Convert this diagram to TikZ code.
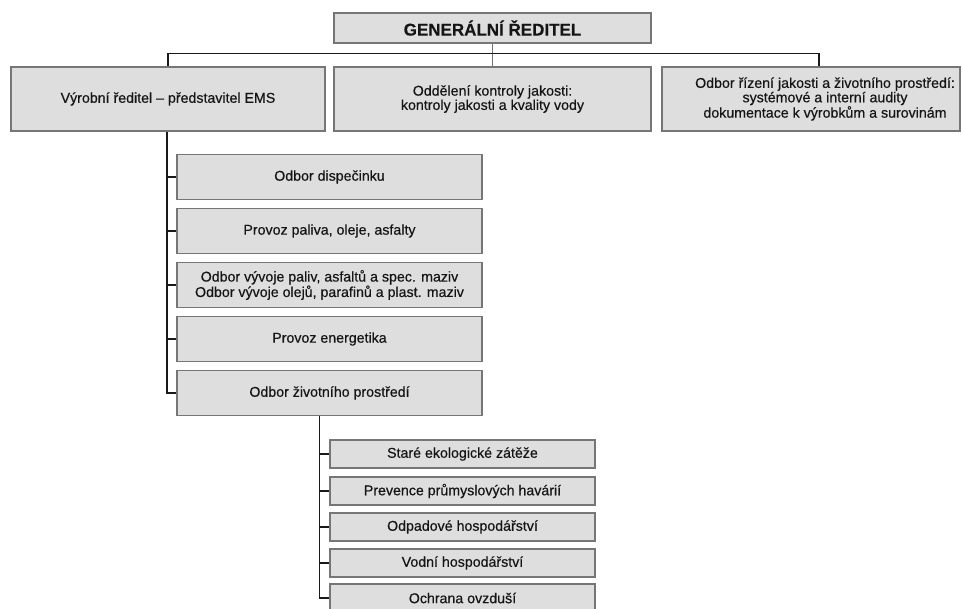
\documentclass[tikz,border=0pt]{standalone}
\usepackage{fontspec}
\setmainfont{Liberation Sans}[FakeBold=0.4]
\usetikzlibrary{calc}
\definecolor{boxfill}{HTML}{DEDEDE}
\definecolor{boxdraw}{HTML}{767676}
\definecolor{boxshade}{HTML}{5E5E5E}
\definecolor{txt}{HTML}{151515}
\tikzset{
  orgbox/.style={draw=boxdraw, line width=1.6pt, fill=boxfill, inner sep=0pt, align=center,
    text=txt, font=\fontsize{14.2}{13}\selectfont,
    append after command={[draw=boxshade, line width=1.6pt]
      (\tikzlastnode.south west) -- (\tikzlastnode.south east) -- (\tikzlastnode.north east)}},
  boxtext/.style={inner sep=0pt, align=center, text=txt, font=\fontsize{14.2}{13}\selectfont},
  topbox/.style={orgbox, minimum width=314pt, minimum height=64pt},
  kidbox/.style={orgbox, minimum width=305pt, minimum height=45pt},
  subbox/.style={orgbox, minimum width=265pt, minimum height=28pt},
  link/.style={draw=black!90, line width=1.4pt},
  thinlink/.style={draw=black!55, line width=0.9pt}
}
\begin{document}
\begin{tikzpicture}[x=1pt,y=-1pt]
\useasboundingbox (0,0) rectangle (963,608);
\begin{scope}
\clip (0,0) rectangle (963,608);
\node[orgbox, minimum width=317pt, minimum height=30pt, font=\fontsize{17}{17}\selectfont\bfseries] (gen) at (492.5,28) {GENERÁLNÍ ŘEDITEL};
\node[topbox] (vr) at (168,99) {Výrobní ředitel – představitel EMS};
\node[topbox, minimum width=317pt] (okj) at (492.5,99) {Oddělení kontroly jakosti:\\kontroly jakosti a kvality vody};
\node[topbox, minimum width=298pt] (orj) at (811,99) {};
\node[boxtext] (orjtext) at ($(orj.center)+(14,0)$) {Odbor řízení jakosti a životního prostředí:\\systémové a interní audity\\dokumentace k výrobkům a surovinám};

\node[kidbox] (k1) at (329.5,177) {Odbor dispečinku};
\node[kidbox] (k2) at (329.5,231) {Provoz paliva, oleje, asfalty};
\node[kidbox] (k3) at (329.5,285) {Odbor vývoje paliv, asfaltů a spec. maziv\\Odbor vývoje olejů, parafinů a plast. maziv};
\node[kidbox] (k4) at (329.5,339) {Provoz energetika};
\node[kidbox] (k5) at (329.5,393) {Odbor životního prostředí};

\node[subbox] (s1) at (462.5,454) {Staré ekologické zátěže};
\node[subbox] (s2) at (462.5,491) {Prevence průmyslových havárií};
\node[subbox] (s3) at (462.5,527) {Odpadové hospodářství};
\node[subbox] (s4) at (462.5,563) {Vodní hospodářství};
\node[subbox] (s5) at (462.5,598) {Ochrana ovzduší};

\coordinate (busL) at ($(vr.north)+(0,-13)$);
\coordinate (busR) at ($(orj.north)+(8,-13)$);
\draw[thinlink] (gen.south) -- (okj.north);
\draw[link] (vr.north) -- (busL) -- (busR) -- ($(orj.north)+(8,0)$);

\coordinate (trunk) at ($(vr.south)+(-1,0)$);
\draw[link] (trunk) |- (k5.west);
\foreach \k in {k1,k2,k3,k4}{\draw[link] (trunk |- \k.west) -- (\k.west);}

\coordinate (strunk) at (k5.south -| 319.5,0);
\draw[link] (strunk) |- (s5.west);
\foreach \s in {s1,s2,s3,s4}{\draw[link] (strunk |- \s.west) -- (\s.west);}
\end{scope}
\end{tikzpicture}
\end{document}
